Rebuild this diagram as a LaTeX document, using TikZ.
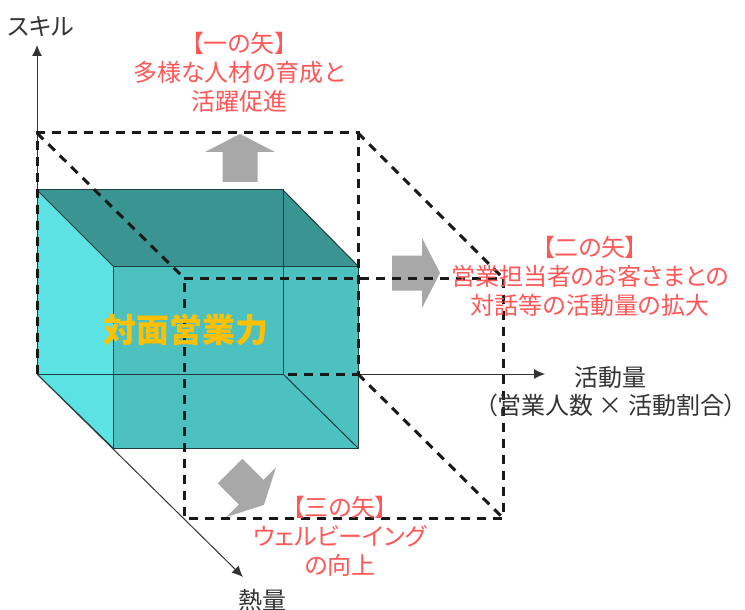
\documentclass[tikz,border=0pt]{standalone}
\usepackage{fontspec}
\setmainfont{Noto Sans CJK JP}[RawFeature=+palt]
\usetikzlibrary{arrows.meta, positioning}
\definecolor{arrowred}{RGB}{255,87,87}
\definecolor{topteal}{RGB}{58,148,146}
\definecolor{sideteal}{RGB}{92,226,226}
\definecolor{frontteal}{RGB}{76,193,192}
\definecolor{edgeteal}{RGB}{30,62,62}
\definecolor{shiftgray}{RGB}{168,168,168}
\definecolor{labelgold}{RGB}{255,192,0}
\tikzset{
  fatarrow/.pic={\fill[shiftgray] (0,-17.5) -- (30,-17.5) -- (30,-35) -- (48,0) -- (30,35) -- (30,17.5) -- (0,17.5) -- cycle;},
  axisline/.style={line width=0.5pt, black!80, -{Latex[length=5.5pt,width=5pt]}},
  boxdash/.style={line width=1.5pt, black!90, dash pattern=on 4.5pt off 3.5pt},
  cubeedge/.style={line width=0.5pt, edgeteal},
  arrowtext/.style={text=arrowred, align=center, font=\fontsize{12}{14.5}\selectfont},
  axistext/.style={text=black!80, align=center, font=\fontsize{12}{14.5}\selectfont}
}

\begin{document}
\begin{tikzpicture}[x=0.5pt, y=-0.5pt]
	\useasboundingbox (0,0) rectangle (745,610);
	\coordinate (O) at (37,374);
	\coordinate (skill) at (37,45);
	\coordinate (amount) at (545,374);
	\coordinate (heat) at (243,577);
	
	\coordinate (b1) at (37,190);
	\coordinate (b2) at (283,190);
	\coordinate (b3) at (283,374);
	\coordinate (b4) at (37,374);
	\coordinate (f1) at (113,266);
	\coordinate (f2) at (358,266);
	\coordinate (f3) at (358,448);
	\coordinate (f4) at (113,448);
	
	\coordinate (d1) at (37,133);
	\coordinate (d2) at (358,133);
	\coordinate (d3) at (358,374);
	\coordinate (e1) at (184,278);
	\coordinate (e2) at (503,278);
	\coordinate (e3) at (503,518);
	\coordinate (e4) at (184,518);
	
	\draw[axisline] (O) -- (skill);
	\draw[axisline] (O) -- (amount);
	\draw[axisline] (O) -- (heat);
	
	\fill[sideteal] (b1) -- (f1) -- (f4) -- (b4) -- cycle;
	\fill[topteal] (b1) -- (b2) -- (f2) -- (f1) -- cycle;
	\fill[frontteal] (f1) -- (f2) -- (f3) -- (f4) -- cycle;
	\draw[cubeedge] (f1) -- (f2) -- (f3) -- (f4) -- cycle;
	\draw[cubeedge] (b4) -- (b1) -- (b2) -- (b3) -- cycle;
	\draw[cubeedge] (b1) -- (f1);
	\draw[cubeedge] (b2) -- (f2);
	\draw[cubeedge] (b3) -- (f3);
	\draw[cubeedge] (b4) -- (f4);
	
	\pic[rotate=90] at (240,182) {fatarrow};
	\pic at (392,273) {fatarrow};
	\pic[rotate=-45] at (230,471) {fatarrow};
	
	\draw[boxdash] (b4) -- (d1) -- (d2) -- (d3) -- (b3);
	\draw[boxdash] (e1) -- (e2) -- (e3) -- (e4) -- cycle;
	\draw[boxdash] (d1) -- (e1);
	\draw[boxdash] (d2) -- (e2);
	\draw[boxdash] (d3) -- (e3);
	
	\node[axistext] (skilllabel) at (41,27) {スキル};
	\node[axistext] (heatlabel) at (262,600) {熱量};
	\node[axistext] (amountlabel) at (610,377) {活動量};
	\node[axistext] (amountnote) at (611,405) {（営業人数 × 活動割合）};
	
	\node[arrowtext] (first) at (239,72) {【一の矢】\\多様な人材の育成と\\活躍促進};
	\node[arrowtext] (second) at (590,276) {【二の矢】\\営業担当者のお客さまとの\\対話等の活動量の拡大};
	\node[arrowtext] (third) at (340,536) {【三の矢】\\ウェルビーイング\\の向上};
	\node[text=labelgold, font=\bfseries\fontsize{16.5}{20}\selectfont] (power) at (186,330) {対面営業力};
\end{tikzpicture}
\end{document}
